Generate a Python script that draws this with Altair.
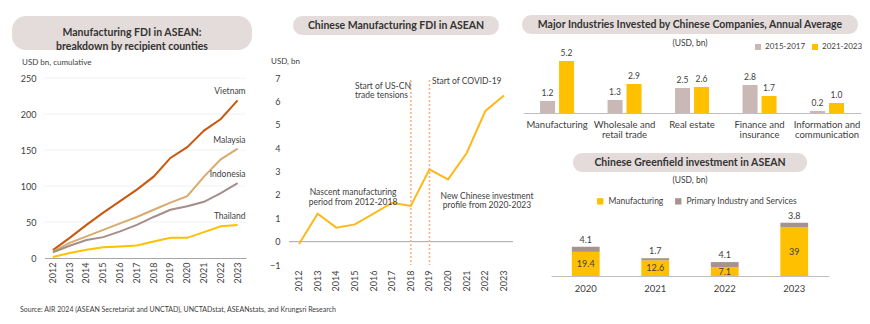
import altair as alt
import pandas as pd

FONT = "Lato"
TXT = "#404040"
PILL = "#E4DCDA"

# ---------------- data ----------------
years = list(range(2012, 2024))
vietnam = [11, 28, 46, 63, 79, 95, 113, 139, 154, 177, 193, 219]
malaysia = [9, 21, 30, 39, 48, 57, 67, 77, 86, 113, 137, 152]
indonesia = [8, 17, 25, 29, 37, 46, 57, 67, 72, 78, 90, 104]
thailand = [1.5, 7, 11.5, 15, 16, 17.5, 23, 28, 28, 36, 44, 46]
countries = ["Vietnam", "Malaysia", "Indonesia", "Thailand"]
country_colors = ["#C9580F", "#D8AA6E", "#A48D8A", "#FFC000"]
left_ticks = [0, 50, 100, 150, 200, 250]

cn_fdi = [-0.1, 1.2, 0.6, 0.74, 1.2, 1.67, 1.53, 3.1, 2.67, 3.8, 5.6, 6.26]
mid_ticks = [-1, 0, 1, 2, 3, 4, 5, 6, 7]
event_years = [2018, 2019]

industries = ["Manufacturing", "Wholesale and|retail trade", "Real estate",
              "Finance and|insurance", "Information and|communication"]
periods = ["2015-2017", "2021-2023"]
avg_1517 = [1.2, 1.3, 2.5, 2.8, 0.2]
avg_2123 = [5.2, 2.9, 2.6, 1.7, 1.0]

gf_years = ["2020", "2021", "2022", "2023"]
gf_manufacturing = [19.4, 12.6, 7.1, 39]
gf_primary = [4.1, 1.7, 4.1, 3.8]
gf_segments = ["Manufacturing", "Primary Industry and Services"]

source_text = ("Source:  AIR 2024 (ASEAN Secretariat and UNCTAD), UNCTADstat, "
               "ASEANstats, and Krungsri Research")

one = pd.DataFrame({"k": [0]})


def note(lines, x, y, align="center", size=8.5, bold=False, color=TXT, lh=10):
    return alt.Chart(one).mark_text(
        text=lines, align=align, baseline="middle", fontSize=size,
        fontWeight="bold" if bold else "normal", color=color, lineHeight=lh,
        font=FONT,
    ).encode(x=alt.value(x), y=alt.value(y))


def pill(x0, x1, y0, y1, lines, cy, size=10.5, lh=14):
    r = alt.Chart(one).mark_rect(color=PILL, cornerRadius=min(14, (y1 - y0) / 2)).encode(
        x=alt.value(x0), x2=alt.value(x1), y=alt.value(y0), y2=alt.value(y1))
    t = note(lines, (x0 + x1) / 2, cy, size=size, bold=True, color="#333333", lh=lh)
    return r + t


# ---------------- left: cumulative manufacturing FDI ----------------
left_df = pd.DataFrame({
    "year": years * 4,
    "value": vietnam + malaysia + indonesia + thailand,
    "country": [c for c in countries for _ in years],
})
lx = alt.X("year:O", scale=alt.Scale(type="band", range=[44.5, 246], paddingInner=0, paddingOuter=0),
           axis=alt.Axis(orient="bottom", offset=-66, labelAngle=-90, title=None, ticks=False,
                         domainColor="#A6A6A6", labelPadding=4))
ly = alt.Y("value:Q", scale=alt.Scale(domain=[0, 250], range=[258, 78], nice=False, zero=False),
           axis=alt.Axis(orient="left", offset=-43, values=left_ticks, title=None, ticks=False,
                         domain=False, grid=False, labelPadding=7))
left_grid = alt.Chart(pd.DataFrame({"value": left_ticks[1:]})).mark_rule(
    color="#EFEFEF", strokeWidth=0.8).encode(y=ly, x=alt.value(44.5), x2=alt.value(246))
left_lines = alt.Chart(left_df).mark_line(strokeWidth=2).encode(
    x=lx, y=ly,
    color=alt.Color("country:N", scale=alt.Scale(domain=countries, range=country_colors), legend=None),
)
left_labels = alt.Chart(left_df).transform_filter("datum.year == 2023").mark_text(
    align="right", dx=8, dy=-9, fontSize=8.5, color=TXT, font=FONT).encode(x=lx, y=ly, text="country:N")
left = alt.layer(left_grid, left_lines, left_labels)

# ---------------- middle: Chinese manufacturing FDI ----------------
mid_df = pd.DataFrame({"year": years, "value": cn_fdi})
mx = alt.X("year:O", scale=alt.Scale(type="band", range=[289.7, 513.3], paddingInner=0, paddingOuter=0),
           axis=alt.Axis(orient="bottom", offset=-59, labelAngle=-90, title=None, ticks=False,
                         domain=False, labelPadding=5))
my = alt.Y("value:Q", scale=alt.Scale(domain=[-1, 7], range=[265, 78.3], nice=False, zero=False),
           axis=alt.Axis(orient="left", offset=-289, values=mid_ticks, title=None, ticks=False,
                         domain=False, grid=False, labelPadding=9))
mid_zero = alt.Chart(pd.DataFrame({"value": [0]})).mark_rule(color="#A6A6A6", strokeWidth=1).encode(
    y=my, x=alt.value(289), x2=alt.value(513))
mid_events = alt.Chart(pd.DataFrame({"year": event_years})).mark_rule(
    color="#F4B183", strokeWidth=1.5, strokeDash=[2, 2]).encode(x=mx, y=alt.value(80), y2=alt.value(265))
mid_line = alt.Chart(mid_df).mark_line(color="#FFB81C", strokeWidth=2).encode(x=mx, y=my)
middle = alt.layer(mid_zero, mid_events, mid_line)

# ---------------- top right: industries, annual average ----------------
ind_df = pd.DataFrame({
    "industry": industries * 2,
    "period": [periods[0]] * 5 + [periods[1]] * 5,
    "value": avg_1517 + avg_2123,
})
tx = alt.X("industry:N", sort=industries,
           scale=alt.Scale(type="band", range=[523.3, 860.8], paddingInner=0, paddingOuter=0),
           axis=alt.Axis(orient="bottom", offset=-211, title=None, ticks=False, domainColor="#BFBFBF",
                         labelExpr="split(datum.value, '|')", labelAngle=0, labelPadding=6,
                         labelFontSize=9.5, labelLineHeight=10.5))
txo = alt.XOffset("period:N", sort=periods,
                  scale=alt.Scale(range=[16.75, 50.75], paddingInner=0.21, paddingOuter=0))
ty = alt.Y("value:Q", scale=alt.Scale(domain=[0, 6], range=[113, 53], nice=False), axis=None)
tr_bars = alt.Chart(ind_df).mark_bar().encode(
    x=tx, xOffset=txo, y=ty,
    color=alt.Color("period:N", scale=alt.Scale(domain=periods, range=["#C9B8B5", "#FFC000"]),
                    legend=alt.Legend(orient="none", legendX=754, legendY=43, direction="horizontal",
                                      title=None, symbolType="square", symbolSize=36,
                                      symbolStrokeWidth=0, labelFontSize=8, labelColor=TXT,
                                      labelFont=FONT, columnPadding=5, labelOffset=3)),
)
tr_text = alt.Chart(ind_df).mark_text(dy=-8, fontSize=8.5, color=TXT, font=FONT).encode(
    x=tx, xOffset=txo, y=ty, text=alt.Text("value:Q", format=".1f"))
top_right = alt.layer(tr_bars, tr_text)

# ---------------- bottom right: greenfield investment ----------------
gf_df = pd.DataFrame({
    "year": gf_years * 2,
    "segment": [gf_segments[0]] * 4 + [gf_segments[1]] * 4,
    "value": gf_manufacturing + gf_primary,
})
gf_lab = pd.DataFrame({"year": gf_years, "manufacturing": gf_manufacturing, "primary": gf_primary})
bx = alt.X("year:N", scale=alt.Scale(type="band", range=[551, 829], paddingInner=0.6, paddingOuter=0.3),
           axis=alt.Axis(orient="bottom", offset=-48, title=None, ticks=False, domainColor="#BFBFBF",
                         labelAngle=0, labelPadding=7, labelFontSize=9.5))
bscale = alt.Scale(domain=[0, 45], range=[276, 220], nice=False)
br_bars = alt.Chart(gf_df).mark_bar().encode(
    x=bx,
    y=alt.Y("value:Q", stack="zero", scale=bscale, axis=None),
    color=alt.Color("segment:N", scale=alt.Scale(domain=gf_segments, range=["#FFC000", "#A8928F"]),
                    legend=alt.Legend(orient="none", legendX=596, legendY=197, direction="horizontal",
                                      title=None, symbolType="square", symbolSize=40,
                                      symbolStrokeWidth=0, labelFontSize=8.5, labelColor=TXT,
                                      labelFont=FONT, columnPadding=10)),
    order=alt.Order("segment:N", sort="ascending"),
)
br_in = alt.Chart(gf_lab).transform_calculate(mid="datum.manufacturing / 2").mark_text(
    fontSize=9, color=TXT, font=FONT).encode(
    x=bx, y=alt.Y("mid:Q", scale=bscale, axis=None), text=alt.Text("manufacturing:Q", format="~g"))
br_top = alt.Chart(gf_lab).transform_calculate(total="datum.manufacturing + datum.primary").mark_text(
    dy=-7, fontSize=9, color=TXT, font=FONT).encode(
    x=bx, y=alt.Y("total:Q", scale=bscale, axis=None), text=alt.Text("primary:Q", format="~g"))
bottom_right = alt.layer(br_bars, br_in, br_top)

# ---------------- titles / notes ----------------
decor = [
    pill(12, 252, 16, 50, ["Manufacturing FDI in ASEAN:", "breakdown by recipient counties"], 33),
    pill(293, 499, 16, 35, ["Chinese Manufacturing FDI in ASEAN"], 25.5),
    pill(522, 858, 15, 34, ["Major Industries Invested by Chinese Companies, Annual Average"], 24.5),
    pill(573, 807, 153, 172, ["Chinese Greenfield investment in ASEAN"], 162.5),
    note(["USD bn, cumulative"], 22, 63, align="left", size=8),
    note(["USD, bn"], 271, 62, align="left", size=8),
    note(["(USD, bn)"], 690, 43, size=8.5),
    note(["(USD, bn)"], 690, 180, size=8.5),
    note(["Start of US-CN", "trade tensions"], 355, 85.5, align="left", lh=9.5),
    note(["Start of COVID-19"], 432, 81, align="left"),
    note(["Nascent manufacturing", "period from 2012-2018"], 353, 192),
    note(["New Chinese investment", "profile from 2020-2023"], 487, 195.5, lh=9.5),
    note([source_text], 20, 310, align="left", size=7),
]

chart = alt.layer(left, middle, top_right, bottom_right, *decor).resolve_scale(
    x="independent", y="independent", color="independent", xOffset="independent"
).properties(
    width=870, height=324, padding=0, autosize=alt.AutoSizeParams(type="none"),
).configure_view(stroke=None).configure_axis(
    labelFont=FONT, labelColor=TXT, labelFontSize=9,
)

chart.save("out.html", embed_options={"renderer": "svg", "actions": False})
